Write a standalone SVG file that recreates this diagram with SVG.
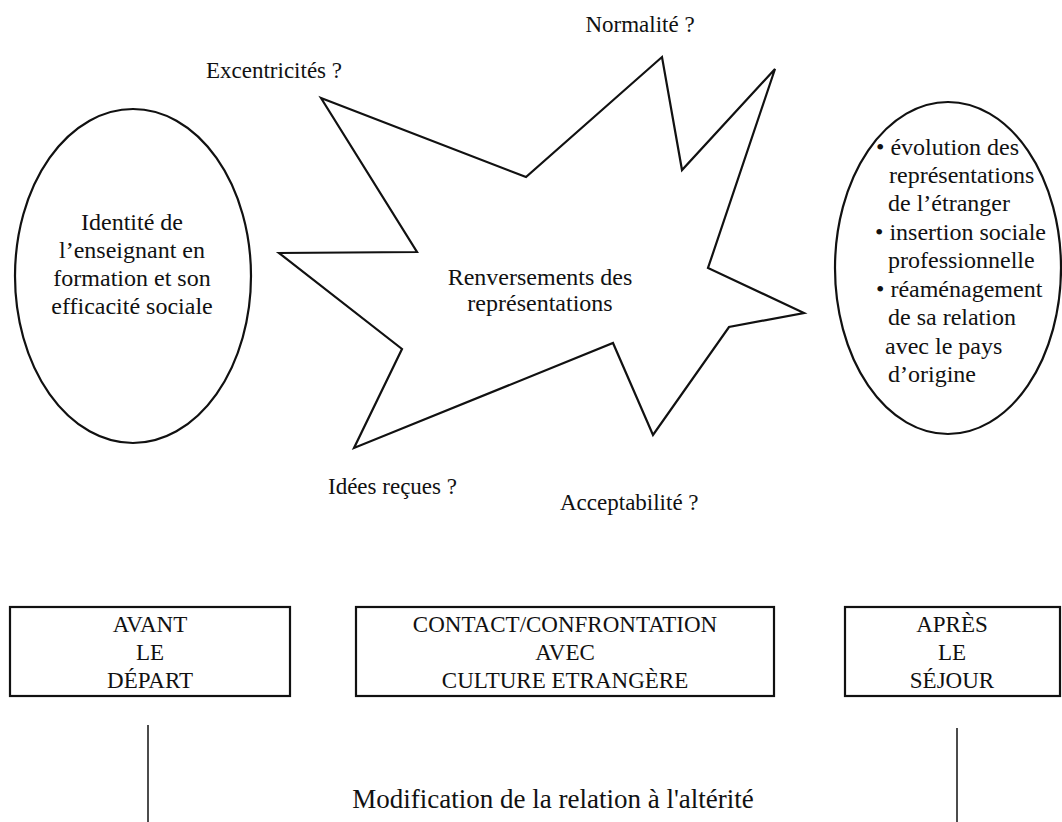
<svg xmlns="http://www.w3.org/2000/svg" width="1062" height="822" viewBox="0 0 1062 822" font-family="'Liberation Serif', 'Times New Roman', 'DejaVu Serif', serif">
<style>
text{font-family:'Liberation Serif','Times New Roman','DejaVu Serif',serif;fill:#111;}
.t{font-size:24px;}
.q{font-size:23px;}
.c{text-anchor:middle;}
.box{font-size:23px;text-anchor:middle;}
.shape{fill:#fff;stroke:#111;stroke-width:2.2;}
.ln{stroke:#111;stroke-width:1.5;fill:none;}
</style>
<rect width="1062" height="822" fill="#fff"/>
<g id="star">
<polygon class="shape" points="321,98 526,177 662,57 682,170 775,69 708,268 804,313 729,327 653,435 613,343 354,448 402,349 279,253 417,252"/>
<text class="t c" x="540" y="285">Renversements des</text>
<text class="t c" x="540" y="311">représentations</text>
</g>
<g id="labels">
<text class="q c" x="640" y="32">Normalité ?</text>
<text class="q" x="206" y="78">Excentricités ?</text>
<text class="q" x="328" y="494">Idées reçues ?</text>
<text class="q" x="560" y="510">Acceptabilité ?</text>
</g>
<g id="left-ellipse">
<ellipse class="shape" cx="133" cy="276" rx="118" ry="167" stroke-width="1.8"/>
<text class="t c" x="132" y="230">Identité de</text>
<text class="t c" x="132" y="258">l’enseignant en</text>
<text class="t c" x="132" y="286">formation et son</text>
<text class="t c" x="132" y="314">efficacité sociale</text>
</g>
<g id="right-ellipse">
<ellipse class="shape" cx="948" cy="268" rx="113" ry="166" stroke-width="1.8"/>
<text class="t" x="876" y="155">• évolution des</text>
<text class="t" x="889" y="183">représentations</text>
<text class="t" x="888" y="211">de l’étranger</text>
<text class="t" x="875" y="240">• insertion sociale</text>
<text class="t" x="888" y="268">professionnelle</text>
<text class="t" x="876" y="297">•  réaménagement</text>
<text class="t" x="888" y="325">de sa relation</text>
<text class="t" x="885" y="354">avec le pays</text>
<text class="t" x="888" y="382">d’origine</text>
</g>
<g id="box-avant">
<rect class="shape" x="10" y="607" width="280" height="89" stroke-width="1.8"/>
<text class="box" x="150" y="632">AVANT</text>
<text class="box" x="150" y="660">LE</text>
<text class="box" x="150" y="688">DÉPART</text>
</g>
<g id="box-contact">
<rect class="shape" x="356" y="607" width="418" height="89" stroke-width="1.8"/>
<text class="box" x="565" y="632">CONTACT/CONFRONTATION</text>
<text class="box" x="565" y="660">AVEC</text>
<text class="box" x="565" y="688">CULTURE ETRANGÈRE</text>
</g>
<g id="box-apres">
<rect class="shape" x="845" y="607" width="215" height="89" stroke-width="1.8"/>
<text class="box" x="952" y="632">APRÈS</text>
<text class="box" x="952" y="660">LE</text>
<text class="box" x="952" y="688">SÉJOUR</text>
</g>
<g id="connectors">
<line class="ln" x1="148" y1="725" x2="148" y2="822"/>
<line class="ln" x1="957" y1="728" x2="957" y2="822"/>
</g>
<g id="footer">
<text class="c" x="553" y="808" font-size="27">Modification de la relation à l'altérité</text>
</g>
</svg>
